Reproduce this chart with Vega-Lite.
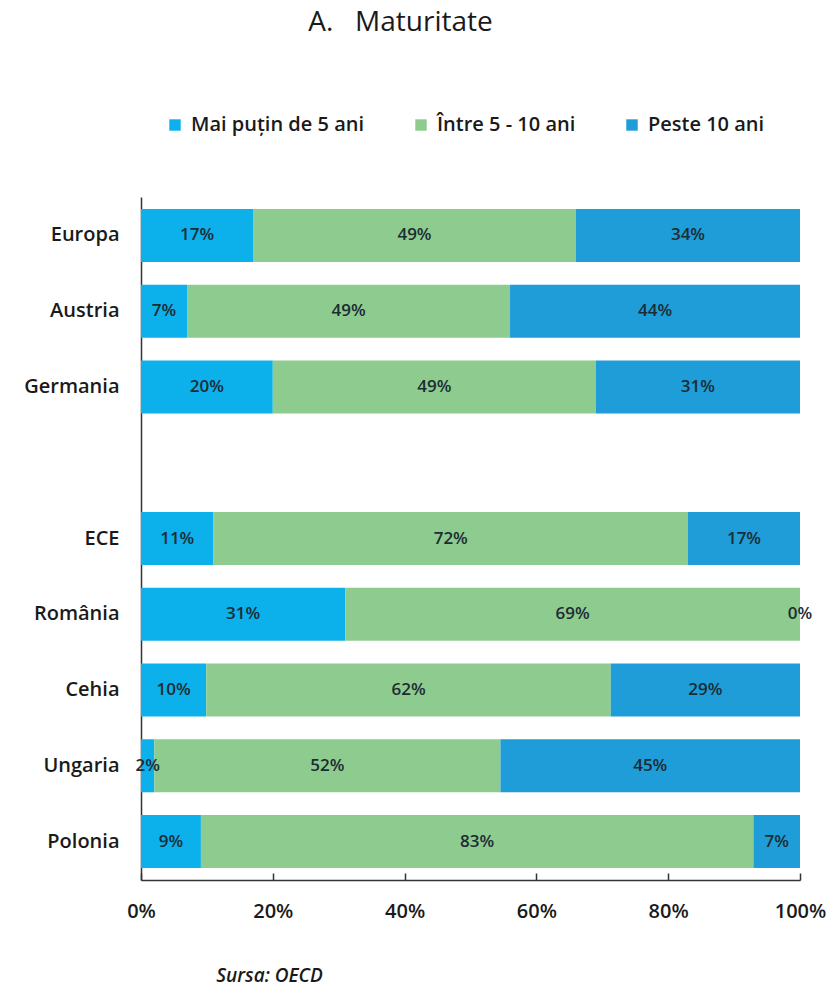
{
  "$schema": "https://vega.github.io/schema/vega-lite/v6.json",
  "width": 659,
  "height": 683,
  "autosize": {"type": "none"},
  "padding": {"left": 141, "top": 197, "right": 35, "bottom": 111},
  "background": "#ffffff",
  "title": {
    "text": "A.\u00a0\u00a0\u00a0Maturitate",
    "anchor": "middle",
    "dx": -70,
    "offset": 78,
    "fontSize": 28,
    "fontWeight": "normal",
    "font": "Open Sans",
    "color": "#1a1a1a"
  },
  "config": {
    "view": {"stroke": null},
    "font": "Open Sans"
  },
  "data": {
    "values": [
      {"country": "Europa", "cat": "Mai puțin de 5 ani", "ord": 1, "share": 0.17},
      {"country": "Europa", "cat": "Între 5 - 10 ani", "ord": 2, "share": 0.49},
      {"country": "Europa", "cat": "Peste 10 ani", "ord": 3, "share": 0.34},
      {"country": "Austria", "cat": "Mai puțin de 5 ani", "ord": 1, "share": 0.07},
      {"country": "Austria", "cat": "Între 5 - 10 ani", "ord": 2, "share": 0.49},
      {"country": "Austria", "cat": "Peste 10 ani", "ord": 3, "share": 0.44},
      {"country": "Germania", "cat": "Mai puțin de 5 ani", "ord": 1, "share": 0.20},
      {"country": "Germania", "cat": "Între 5 - 10 ani", "ord": 2, "share": 0.49},
      {"country": "Germania", "cat": "Peste 10 ani", "ord": 3, "share": 0.31},
      {"country": "ECE", "cat": "Mai puțin de 5 ani", "ord": 1, "share": 0.11},
      {"country": "ECE", "cat": "Între 5 - 10 ani", "ord": 2, "share": 0.72},
      {"country": "ECE", "cat": "Peste 10 ani", "ord": 3, "share": 0.17},
      {"country": "România", "cat": "Mai puțin de 5 ani", "ord": 1, "share": 0.31},
      {"country": "România", "cat": "Între 5 - 10 ani", "ord": 2, "share": 0.69},
      {"country": "România", "cat": "Peste 10 ani", "ord": 3, "share": 0.0},
      {"country": "Cehia", "cat": "Mai puțin de 5 ani", "ord": 1, "share": 0.10},
      {"country": "Cehia", "cat": "Între 5 - 10 ani", "ord": 2, "share": 0.62},
      {"country": "Cehia", "cat": "Peste 10 ani", "ord": 3, "share": 0.29},
      {"country": "Ungaria", "cat": "Mai puțin de 5 ani", "ord": 1, "share": 0.02},
      {"country": "Ungaria", "cat": "Între 5 - 10 ani", "ord": 2, "share": 0.52},
      {"country": "Ungaria", "cat": "Peste 10 ani", "ord": 3, "share": 0.45},
      {"country": "Polonia", "cat": "Mai puțin de 5 ani", "ord": 1, "share": 0.09},
      {"country": "Polonia", "cat": "Între 5 - 10 ani", "ord": 2, "share": 0.83},
      {"country": "Polonia", "cat": "Peste 10 ani", "ord": 3, "share": 0.07}
    ]
  },
  "encoding": {
    "y": {
      "field": "country",
      "type": "nominal",
      "scale": {
        "domain": ["Europa", "Austria", "Germania", " ", "ECE", "România", "Cehia", "Ungaria", "Polonia"],
        "paddingInner": 0.3,
        "paddingOuter": 0.158
      },
      "axis": {
        "title": null,
        "ticks": false,
        "domainColor": "#333333",
        "domainWidth": 1.5,
        "labelFontSize": 20,
        "labelFontWeight": 600,
        "labelColor": "#1a1a1a",
        "labelPadding": 22,
        "labelFont": "Open Sans"
      }
    },
    "x": {
      "field": "share",
      "type": "quantitative",
      "stack": "normalize",
      "scale": {"domain": [0, 1]},
      "axis": {
        "values": [0, 0.2, 0.4, 0.6, 0.8, 1],
        "format": ".0%",
        "grid": false,
        "labelFlush": false,
        "domainColor": "#333333",
        "domainWidth": 1.5,
        "tickColor": "#333333",
        "tickWidth": 1.5,
        "tickSize": -7,
        "labelPadding": 28,
        "labelFontSize": 20,
        "labelFontWeight": 600,
        "labelColor": "#1a1a1a",
        "labelFont": "Open Sans",
        "title": "Sursa: OECD",
        "titleFontStyle": "italic",
        "titleFontWeight": 600,
        "titleFontSize": 19,
        "titleColor": "#1a1a1a",
        "titleFont": "Open Sans",
        "titleX": 128,
        "titleY": 86
      }
    },
    "order": {"field": "ord", "type": "quantitative"}
  },
  "layer": [
    {
      "mark": {"type": "bar"},
      "encoding": {
        "color": {
          "field": "cat",
          "type": "nominal",
          "scale": {
            "domain": ["Mai puțin de 5 ani", "Între 5 - 10 ani", "Peste 10 ani"],
            "range": ["#0cb0ea", "#8ecb8e", "#1e9dd8"]
          },
          "legend": {
            "title": null,
            "orient": "none",
            "direction": "horizontal",
            "legendX": 24,
            "legendY": -82,
            "symbolType": "square",
            "symbolSize": 130,
            "symbolStrokeWidth": 0,
            "labelFontSize": 20,
            "labelFontWeight": 600,
            "labelColor": "#1a1a1a",
            "labelFont": "Open Sans",
            "labelLimit": 400,
            "columnPadding": 46,
            "labelOffset": 6
          }
        }
      }
    },
    {
      "mark": {"type": "text", "fontSize": 17, "fontWeight": 600, "color": "#1c2c34", "font": "Open Sans"},
      "encoding": {
        "x": {"field": "share", "type": "quantitative", "stack": "normalize", "bandPosition": 0.5},
        "text": {"field": "share", "type": "quantitative", "format": ".0%"}
      }
    }
  ]
}
